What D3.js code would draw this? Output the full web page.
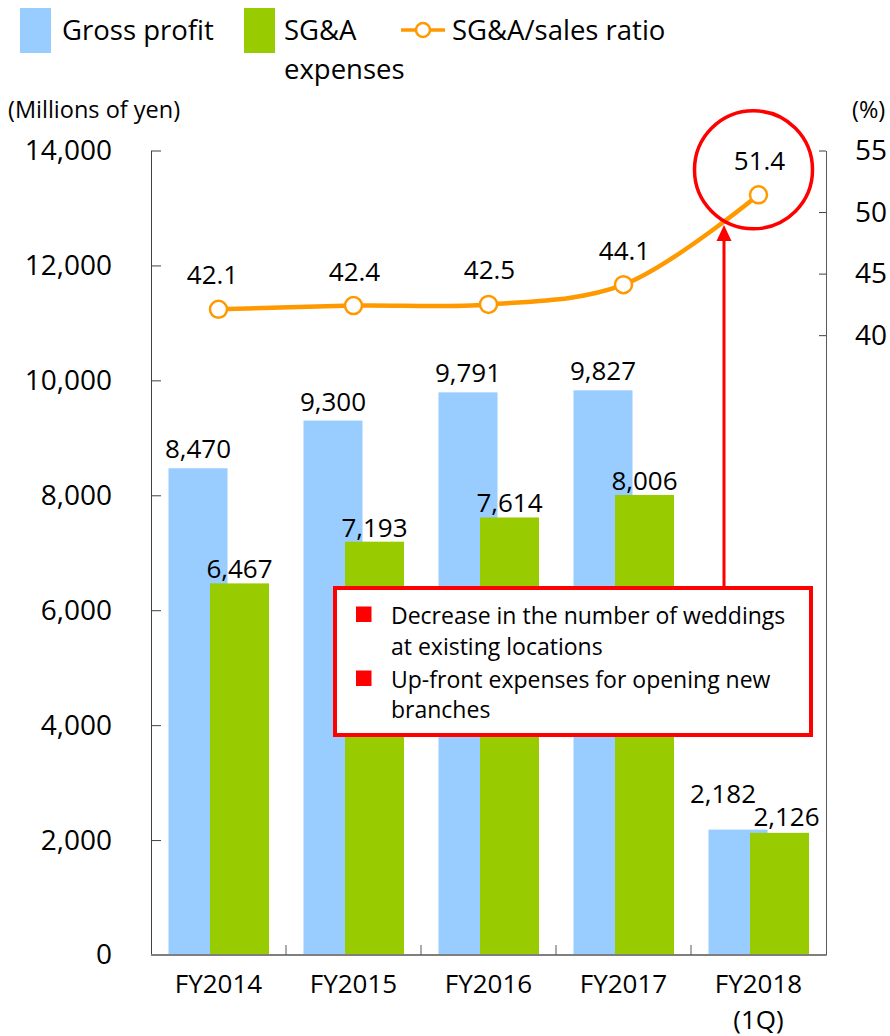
<!DOCTYPE html>
<html><head><meta charset="utf-8">
<script src="https://cdn.jsdelivr.net/npm/d3@7/dist/d3.min.js"></script>
<style>
html,body{margin:0;padding:0;background:#fff;}
svg{display:block;font-family:"Open Sans",sans-serif;}
</style></head><body>
<svg id="chart" width="890" height="1036"></svg>
<script>
// ---- data ----
const categories = ["FY2014", "FY2015", "FY2016", "FY2017", "FY2018 (1Q)"];
const categoryLines = [["FY2014"], ["FY2015"], ["FY2016"], ["FY2017"], ["FY2018", "(1Q)"]];
const grossProfit = [8470, 9300, 9791, 9827, 2182];
const sgaExpenses = [6467, 7193, 7614, 8006, 2126];
const sgaRatio = [42.1, 42.4, 42.5, 44.1, 51.4];
const leftTicks = [0, 2000, 4000, 6000, 8000, 10000, 12000, 14000];
const rightTicks = [40, 45, 50, 55];
const leftUnit = "(Millions of yen)";
const rightUnit = "(%)";
const legendNames = [["Gross profit"], ["SG&A", "expenses"], ["SG&A/sales ratio"]];
const noteItems = [["Decrease in the number of weddings", "at existing locations"],
                   ["Up-front expenses for opening new", "branches"]];

// ---- style ----
const BLUE = "#99CCFF", GREEN = "#99CC00", ORANGE = "#FF9900", RED = "#FF0000";
const svg = d3.select("#chart");
const L = 151, R = 826, B = 955, T = 150.5;

const x = d3.scaleBand().domain(categories).range([L, R]).padding(0);
const bw = x.bandwidth();
const cx = c => x(c) + bw / 2;
const y = d3.scaleLinear().domain([0, 14000]).range([B, T]);
const y2 = d3.scaleLinear().domain([-10.35, 55]).range([B, T]);

// bars
const gBars = svg.append("g");
gBars.selectAll("rect.gp").data(grossProfit).join("rect")
  .attr("x", (d, i) => cx(categories[i]) - 50).attr("width", 59)
  .attr("y", d => y(d)).attr("height", d => B - y(d)).attr("fill", BLUE);
gBars.selectAll("rect.sg").data(sgaExpenses).join("rect")
  .attr("x", (d, i) => cx(categories[i]) - 8.5).attr("width", 59)
  .attr("y", d => y(d)).attr("height", d => B - y(d)).attr("fill", GREEN);

// bar labels
const last = categories.length - 1;
svg.append("g").selectAll("text").data(grossProfit).join("text")
  .attr("x", (d, i) => cx(categories[i]) - 20.5 + (i === last ? -15 : 0))
  .attr("y", (d, i) => y(d) - (i === last ? 27 : 10))
  .attr("text-anchor", "middle").attr("font-size", 26).attr("fill", "#000")
  .text(d => d3.format(",")(d));
svg.append("g").selectAll("text").data(sgaExpenses).join("text")
  .attr("x", (d, i) => cx(categories[i]) + 21 + (i === last ? 7 : 0))
  .attr("y", (d, i) => y(d) - (i === last ? 7 : 5))
  .attr("text-anchor", "middle").attr("font-size", 26).attr("fill", "#000")
  .text(d => d3.format(",")(d));

// left axis
const ax = svg.append("g").attr("transform", `translate(${L},0)`)
  .call(d3.axisLeft(y).tickValues(leftTicks).tickSize(-10).tickSizeOuter(0)
    .tickPadding(39).tickFormat(d3.format(",")));
ax.select(".domain").attr("stroke", "#404040");
ax.selectAll(".tick line").attr("stroke", "#404040");
ax.selectAll("text").attr("font-size", 28).attr("font-family", "Open Sans").attr("fill", "#000");

// right axis
const ar = svg.append("g").attr("transform", `translate(${R},0)`)
  .call(d3.axisRight(y2).tickValues(rightTicks).tickSize(-7).tickSizeOuter(0)
    .tickPadding(29));
ar.select(".domain").attr("stroke", "#595959");
ar.selectAll(".tick line").attr("stroke", "#404040");
ar.selectAll("text").attr("font-size", 28).attr("font-family", "Open Sans").attr("fill", "#000");

// bottom axis
svg.append("line").attr("x1", L).attr("x2", R).attr("y1", B).attr("y2", B)
  .attr("stroke", "#7f7f7f").attr("stroke-width", 2);
svg.append("g").selectAll("line").data(categories.slice(1)).join("line")
  .attr("x1", d => x(d)).attr("x2", d => x(d)).attr("y1", B).attr("y2", B - 10)
  .attr("stroke", "#595959");
const xl = svg.append("g").selectAll("text").data(categoryLines).join("text")
  .attr("x", (d, i) => cx(categories[i])).attr("y", 993)
  .attr("text-anchor", "middle").attr("font-size", 26).attr("fill", "#000");
xl.selectAll("tspan").data(d => d).join("tspan")
  .attr("x", function () { return d3.select(this.parentNode).attr("x"); })
  .attr("dy", (d, j) => j === 0 ? 0 : 35.5).text(d => d);

// units
svg.append("text").attr("x", 8).attr("y", 118).attr("font-size", 23.5).text(leftUnit);
svg.append("text").attr("x", 852).attr("y", 118).attr("font-size", 23.5).text(rightUnit);

// ratio line
const line = d3.line().x((d, i) => cx(categories[i])).y(d => y2(d)).curve(d3.curveCatmullRom);
svg.append("path").datum(sgaRatio).attr("d", line).attr("fill", "none")
  .attr("stroke", ORANGE).attr("stroke-width", 4.5);
svg.append("g").selectAll("circle").data(sgaRatio).join("circle")
  .attr("cx", (d, i) => cx(categories[i])).attr("cy", d => y2(d)).attr("r", 8.5)
  .attr("fill", "#fff").attr("stroke", ORANGE).attr("stroke-width", 2.5);
svg.append("g").selectAll("text").data(sgaRatio).join("text")
  .attr("x", (d, i) => cx(categories[i]) + (i === 0 ? -6 : 1)).attr("y", d => y2(d) - 25)
  .attr("text-anchor", "middle").attr("font-size", 26).attr("fill", "#000")
  .text(d => d3.format(".1f")(d));

// legend
const lg = svg.append("g");
lg.append("rect").attr("x", 20).attr("y", 8).attr("width", 31).attr("height", 45).attr("fill", BLUE);
lg.append("rect").attr("x", 244).attr("y", 8).attr("width", 31).attr("height", 45).attr("fill", GREEN);
lg.append("line").attr("x1", 401).attr("x2", 445).attr("y1", 30).attr("y2", 30)
  .attr("stroke", ORANGE).attr("stroke-width", 3.5);
lg.append("circle").attr("cx", 423).attr("cy", 30).attr("r", 7)
  .attr("fill", "#fff").attr("stroke", ORANGE).attr("stroke-width", 2.5);
const legX = [62, 284, 452];
legendNames.forEach((lines, k) => {
  const t = lg.append("text").attr("font-size", 27.5).attr("fill", "#000");
  lines.forEach((s, j) => t.append("tspan").attr("x", legX[k]).attr("y", 39.5 + j * 39).text(s));
});

// annotation: circle around last point, arrow, box
const lp = { x: cx(categories[last]), y: y2(sgaRatio[last]) };
svg.append("circle").attr("cx", lp.x - 5).attr("cy", lp.y - 25).attr("r", 59)
  .attr("fill", "none").attr("stroke", RED).attr("stroke-width", 3.5);
const arrowX = 724, boxTop = 588;
svg.append("line").attr("x1", arrowX).attr("x2", arrowX).attr("y1", boxTop).attr("y2", 238)
  .attr("stroke", RED).attr("stroke-width", 3);
svg.append("path").attr("d", `M${arrowX},225 L${arrowX - 7.5},241 L${arrowX + 7.5},241 Z`).attr("fill", RED);
svg.append("rect").attr("x", 335).attr("y", boxTop).attr("width", 476).attr("height", 147)
  .attr("fill", "#fff").attr("stroke", RED).attr("stroke-width", 4);
const noteY = [[624, 655], [688, 718]];
noteItems.forEach((lines, k) => {
  svg.append("rect").attr("x", 356).attr("y", noteY[k][0] - 17.5).attr("width", 15.5).attr("height", 15.5).attr("fill", RED);
  lines.forEach((s, j) => svg.append("text").attr("x", 391).attr("y", noteY[k][j])
    .attr("font-size", 23).attr("fill", "#000").text(s));
});
</script>
</body></html>
